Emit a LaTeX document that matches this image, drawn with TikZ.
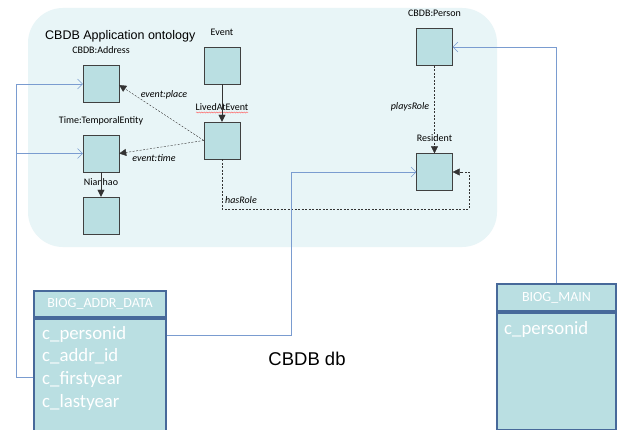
\documentclass[tikz,border=0pt]{standalone}
\usepackage{fontspec}
\setmainfont{Carlito}
\newfontfamily\arialfont{Liberation Sans}
\usepackage{tikz}
\usetikzlibrary{positioning}
\usetikzlibrary{arrows.meta}
\usetikzlibrary{decorations.pathmorphing}

\definecolor{ontobg}{HTML}{E8F5F7}
\definecolor{clsfill}{HTML}{BADFE2}
\definecolor{linkblue}{HTML}{7A9CD0}
\definecolor{tabedge}{HTML}{47699A}

\tikzset{
  cls/.style={draw=black!75, fill=clsfill, minimum width=36, minimum height=37, inner sep=0},
  clslbl/.style={font=\fontsize{10}{11}\selectfont, inner sep=1pt, text height=7pt, text depth=2pt, yshift=8.3pt},
  rel/.style={font=\fontsize{10}{11}\selectfont\itshape, inner sep=1pt},
  dashrel/.style={draw=black!80, dash pattern=on 2pt off 1.5pt, -{Triangle[length=7pt, width=7pt]}},
  solidrel/.style={draw=black!80, -{Triangle[length=7pt, width=7pt]}},
  dblink/.style={draw=linkblue, -{Straight Barb[length=5pt, width=10pt]}},
  tabhead/.style={draw=tabedge, line width=2pt, fill=clsfill, text=white, inner sep=0,
    font=\fontsize{14}{16}\selectfont},
  tabbody/.style={draw=tabedge, line width=2pt, fill=clsfill, inner sep=0},
  tabfield/.style={text=white, inner sep=0, align=left, font=\fontsize{18.8}{22.7}\selectfont}
}

\begin{document}
\begin{tikzpicture}[x=1pt, y=-1pt]
\useasboundingbox (0,0) rectangle (617,430);
\fill[white] (0,0) rectangle (617,430);

% ontology panel
\fill[ontobg, rounded corners=35pt] (28,8) rectangle (497,247);
\node[anchor=base west, inner sep=0, font=\arialfont\fontsize{12.5}{14}\selectfont] (ontotitle) at (45,40) {CBDB Application ontology};

% classes
\node[cls, label={[clslbl]above:{CBDB:Address}}] (addr) at (101,84) {};
\node[cls, label={[clslbl]above:{Time:TemporalEntity}}] (time) at (101,153.5) {};
\node[cls, label={[clslbl]above:{Nianhao}}] (nianhao) at (101,215.5) {};
\node[cls, label={[clslbl]above:{Event}}] (event) at (222,65.5) {};
\node[cls, label={[clslbl]above:{LivedAtEvent}}] (lived) at (222,140.5) {};
\node[cls, label={[clslbl]above:{CBDB:Person}}] (person) at (434.5,47) {};
\node[cls, label={[clslbl]above:{Resident}}] (resident) at (434.5,172) {};
\draw[red!60, line width=0.5pt, decorate, decoration={snake, amplitude=0.5pt, segment length=2.5pt}] (196,112.5) -- (248,112.5);

% relations
\draw[solidrel] (event) -- (lived);
\draw[solidrel] (time) -- (nianhao);
\draw[dashrel] (lived.west) -- (addr.east |- 0,85);
\draw[dashrel] (lived.west) -- (time.east);
\draw[dashrel] (person) -- (resident);
\coordinate (rolecorner) at (469,209);
\draw[dashrel] (lived.south) |- (rolecorner) |- (resident.east);
\node[rel] (placelbl) at (164,95) {event:place};
\node[rel] (timelbl) at (154,158) {event:time};
\node[rel] (playslbl) at (410,107) {playsRole};
\node[rel, anchor=base west] (hasrole) at (224,204) {hasRole};

% CBDB db tables
\node[tabhead, minimum width=132, minimum height=26] (addrhead) at (100,304) {BIOG\_ADDR\_DATA};
\node[tabbody, minimum width=132, minimum height=116, below=0pt of addrhead] (addrbody) {};
\node[tabfield, anchor=north west] (addrfields) at ([xshift=9pt, yshift=-8pt]addrbody.north west)
  {c\_personid\\c\_addr\_id\\c\_firstyear\\c\_lastyear};
\node[tabhead, minimum width=119, minimum height=27] (mainhead) at (556.5,297.5) {BIOG\_MAIN};
\node[tabbody, minimum width=119, minimum height=117, below=0pt of mainhead] (mainbody) {};
\node[tabfield, anchor=north west] (mainfields) at ([xshift=8pt, yshift=-9pt]mainbody.north west) {c\_personid};
\node[font=\arialfont\fontsize{18.5}{20}\selectfont] (dblabel) at (307,359) {CBDB db};

% mappings
\coordinate (addrbus) at (16,0);
\coordinate (resbus) at (291,172);
\draw[dblink] (addrbody.west) -- (addrbody.west -| addrbus) -- (addrbus |- addr.west) -- (addr.west);
\draw[dblink] (addrbus |- time.west) -- (time.west);
\draw[dblink] ([yshift=-17pt]addrbody.north east) -| (resbus) -- (resident.west);
\draw[dblink] (mainhead.north) |- (person.east);
\end{tikzpicture}
\end{document}
